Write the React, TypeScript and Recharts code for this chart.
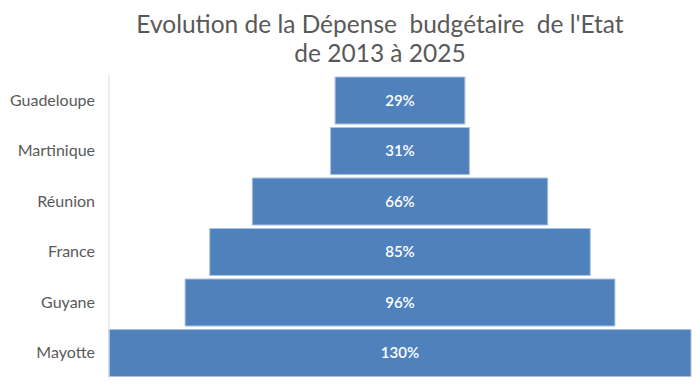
import { BarChart, Bar, XAxis, YAxis, LabelList } from 'recharts'

const territoires = ['Guadeloupe', 'Martinique', 'Réunion', 'France', 'Guyane', 'Mayotte']
const evolution = [29, 31, 66, 85, 96, 130]
const maxValeur = 130

const donnees = territoires.map((nom, i) => ({
  nom,
  decalage: (maxValeur - evolution[i]) / 2,
  valeur: evolution[i],
}))

export default function App() {
  return (
    <div style={{ width: 700, height: 389, position: 'relative', background: '#fff', fontFamily: 'Lato, sans-serif' }}>
      <style>{'body{margin:0}'}</style>
      <div
        style={{
          position: 'absolute',
          top: 9,
          left: 0,
          width: 760,
          textAlign: 'center',
          color: '#595959',
          fontSize: 24.5,
          lineHeight: '29px',
          whiteSpace: 'pre',
        }}
      >
        {"Evolution de la Dépense  budgétaire  de l'Etat\nde 2013 à 2025"}
      </div>
      <BarChart
        width={700}
        height={389}
        data={donnees}
        layout="vertical"
        margin={{ top: 75, right: 9, left: 0, bottom: 11 }}
        barSize={47}
      >
        <XAxis type="number" domain={[0, maxValeur]} hide />
        <YAxis
          type="category"
          dataKey="nom"
          width={109}
          tickLine={false}
          axisLine={{ stroke: '#d9d9d9' }}
          tickMargin={8}
          tick={{ fill: '#595959', fontSize: 16 }}
        />
        <Bar dataKey="decalage" stackId="a" fill="transparent" isAnimationActive={false} />
        <Bar dataKey="valeur" stackId="a" fill="#4f81bd" stroke="#a9c1e2" strokeWidth={1} isAnimationActive={false}>
          <LabelList
            dataKey="valeur"
            position="center"
            formatter={(v: number) => `${v}%`}
            fill="#ffffff"
            fontSize={15}
            fontWeight={600}
          />
        </Bar>
      </BarChart>
    </div>
  )
}
